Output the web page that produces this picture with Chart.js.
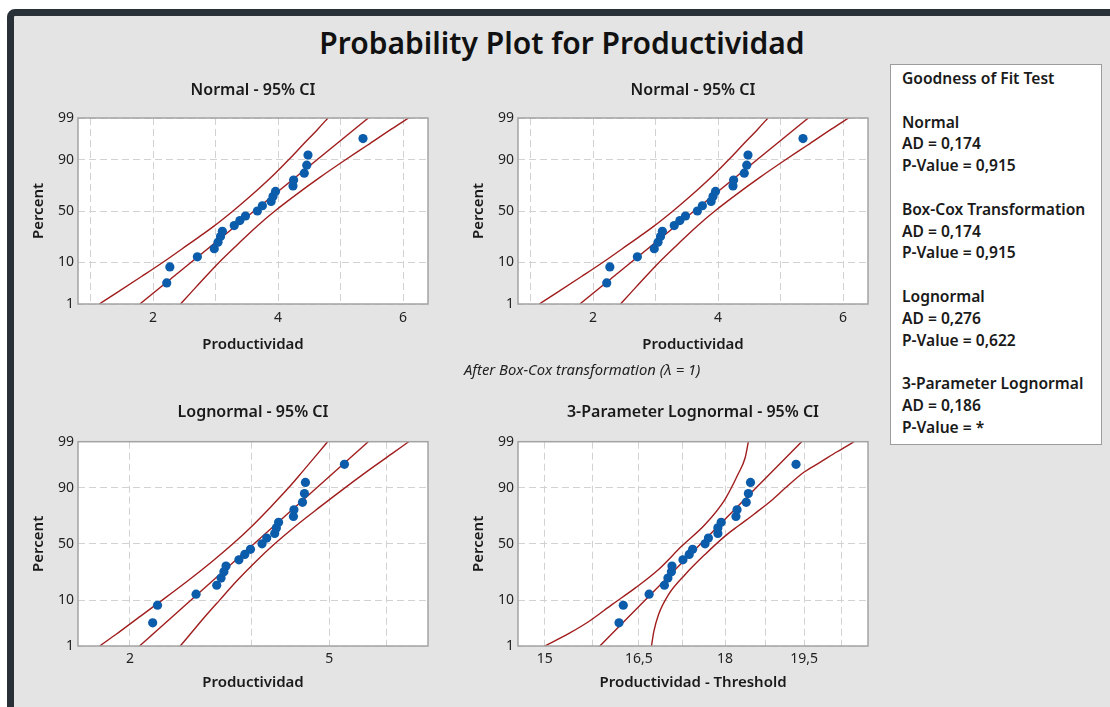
<!DOCTYPE html>
<html>
<head>
<meta charset="utf-8">
<script src="https://cdn.jsdelivr.net/npm/chart.js"></script>
<style>
  html, body { margin:0; padding:0; background:#ffffff; }
  body { width:1110px; height:707px; overflow:hidden; position:relative; font-family:'Noto Sans', sans-serif; color:#1a1a1a; }
  #frame { position:absolute; left:7px; top:9px; width:1200px; height:800px; border:7px solid #2a3038; border-radius:8px; background:#e4e4e4; box-sizing:border-box; }
  #title { position:absolute; left:0; top:26px; width:1124px; height:34px; line-height:34px; text-align:center; font-size:30px; font-weight:600; color:#111; }
  .panel { position:absolute; }
  #legend { position:absolute; left:890px; top:64px; width:212px; height:381px; box-sizing:border-box; border:1.5px solid #9c9c9c; background:#fff; padding:3px 0 0 11px; font-size:15.6px; font-weight:600; line-height:21.8px; color:#1a1a1a; }
  #legend div { height:21.8px; white-space:nowrap; }
  #note { position:absolute; left:464px; top:360px; height:18px; line-height:18px; font-size:14.8px; font-style:italic; color:#222; white-space:nowrap; }
</style>
</head>
<body>
<div id="frame"></div>
<div id="title">Probability Plot for Productividad</div>
<div class="panel" style="left:10px; top:75px;"><canvas id="c1" width="430" height="285"></canvas></div>
<div class="panel" style="left:450px; top:75px;"><canvas id="c2" width="430" height="285"></canvas></div>
<div class="panel" style="left:10px; top:398px;"><canvas id="c3" width="430" height="300"></canvas></div>
<div class="panel" style="left:450px; top:398px;"><canvas id="c4" width="430" height="300"></canvas></div>
<div id="note">After Box-Cox transformation (λ = 1)</div>
<div id="legend">
  <div>Goodness of Fit Test</div>
  <div></div>
  <div>Normal</div>
  <div>AD = 0,174</div>
  <div>P-Value = 0,915</div>
  <div></div>
  <div>Box-Cox Transformation</div>
  <div>AD = 0,174</div>
  <div>P-Value = 0,915</div>
  <div></div>
  <div>Lognormal</div>
  <div>AD = 0,276</div>
  <div>P-Value = 0,622</div>
  <div></div>
  <div>3-Parameter Lognormal</div>
  <div>AD = 0,186</div>
  <div>P-Value = *</div>
</div>
<script>
// ---------------- DATA ----------------
// Sorted Productividad observations (n = 21)
const productividad = [2.22, 2.27, 2.71, 2.98, 3.04, 3.08, 3.11, 3.30, 3.39, 3.48, 3.67,
                       3.75, 3.89, 3.92, 3.96, 4.24, 4.25, 4.42, 4.46, 4.48, 5.36];
// Plotting positions (percent) of the points
const plotPercent = [3.6, 8.1, 12.6, 17.3, 21.8, 26.2, 30.6, 35.8, 40.5, 45.0, 50.0,
                     55.2, 59.4, 64.2, 68.8, 73.4, 78.1, 82.8, 87.4, 91.9, 96.5];
// Productividad - Threshold (3-parameter lognormal panel)
const prodMinusThreshold = [16.17, 16.24, 16.67, 16.93, 16.99, 17.05, 17.06, 17.25, 17.36, 17.42, 17.64,
                            17.70, 17.87, 17.87, 17.93, 18.20, 18.22, 18.39, 18.43, 18.47, 19.34];

// Fitted lines (end points at 1% and 99%)
const fitPercent = [1, 99];
const normalFitX = [1.79, 5.445];
const lognormalFitX = [2.09, 5.98];
const threeParFitX = [15.86, 19.45];

// 95% confidence bands
const bandPercent = [1, 2, 5, 10, 20, 35, 50, 65, 80, 90, 95, 98, 99];
const normalBandLeft  = [1.14, 1.41, 1.81, 2.16, 2.56, 2.97, 3.28, 3.57, 3.89, 4.17, 4.39, 4.64, 4.80];
const normalBandRight = [2.44, 2.60, 2.84, 3.06, 3.35, 3.66, 3.95, 4.27, 4.67, 5.08, 5.43, 5.82, 6.09];
const lognormalBandLeft  = [1.74, 1.88, 2.10, 2.32, 2.61, 2.93, 3.21, 3.49, 3.82, 4.15, 4.42, 4.74, 4.96];
const lognormalBandRight = [2.52, 2.64, 2.83, 3.02, 3.27, 3.58, 3.89, 4.26, 4.79, 5.38, 5.94, 6.67, 7.20];
const threeParBandLeftX   = [15.00, 15.38, 15.69, 16.06, 16.44, 16.83, 17.23, 17.64, 18.00, 18.24, 18.37, 18.43];
const threeParBandLeftPct = [1, 2.1, 3.9, 8.4, 15.8, 28, 48, 67, 84.5, 94.4, 97.5, 99];
const threeParBandRightX   = [16.71, 16.75, 16.83, 17.00, 17.29, 17.64, 18.00, 18.26, 18.54, 18.86, 19.14, 19.50, 19.83, 20.16, 20.51];
const threeParBandRightPct = [1, 2.3, 5.4, 12.4, 24.3, 40.5, 57.0, 66.4, 75.2, 83.7, 90.0, 94.9, 96.9, 98.2, 99];

// Axis ticks
const percentTicks = [1, 10, 50, 90, 99];
const normalGrid = [1, 2, 3, 4, 5, 6];
const normalTickValues = [2, 4, 6];
const normalTickLabels = ['2', '4', '6'];
const lognormalGrid = [2, 3.5, 5, 6.5];
const lognormalTickValues = [2, 5];
const lognormalTickLabels = ['2', '5'];
const threeParGrid = [15, 15.75, 16.5, 17.25, 18, 18.75, 19.5, 20.25];
const threeParTickValues = [15, 16.5, 18, 19.5];
const threeParTickLabels = ['15', '16,5', '18', '19,5'];

// ---------------- Probability (normal-quantile) scale ----------------
function normInv(p) {
  const a = [-3.969683028665376e+01, 2.209460984245205e+02, -2.759285104469687e+02, 1.383577518672690e+02, -3.066479806614716e+01, 2.506628277459239e+00];
  const b = [-5.447609879822406e+01, 1.615858368580409e+02, -1.556989798598866e+02, 6.680131188771972e+01, -1.328068155288572e+01];
  const c = [-7.784894002430293e-03, -3.223964580411365e-01, -2.400758277161838e+00, -2.549732539343734e+00, 4.374664141464968e+00, 2.938163982698783e+00];
  const d = [7.784695709041462e-03, 3.224671290700398e-01, 2.445134137142996e+00, 3.754408661907416e+00];
  const pl = 0.02425;
  let q, r;
  if (p < pl) { q = Math.sqrt(-2 * Math.log(p)); return (((((c[0]*q+c[1])*q+c[2])*q+c[3])*q+c[4])*q+c[5]) / ((((d[0]*q+d[1])*q+d[2])*q+d[3])*q+1); }
  if (p > 1 - pl) { q = Math.sqrt(-2 * Math.log(1 - p)); return -(((((c[0]*q+c[1])*q+c[2])*q+c[3])*q+c[4])*q+c[5]) / ((((d[0]*q+d[1])*q+d[2])*q+d[3])*q+1); }
  q = p - 0.5; r = q * q;
  return (((((a[0]*r+a[1])*r+a[2])*r+a[3])*r+a[4])*r+a[5])*q / (((((b[0]*r+b[1])*r+b[2])*r+b[3])*r+b[4])*r+1);
}
function normCdf(z) {
  const t = 1 / (1 + 0.2316419 * Math.abs(z));
  const y = 0.3989423 * Math.exp(-z * z / 2) * t * (0.3193815 + t * (-0.3565638 + t * (1.781478 + t * (-1.821256 + t * 1.330274))));
  return z > 0 ? 1 - y : y;
}
class ProbitScale extends Chart.LinearScale {
  determineDataLimits() { this.min = this.options.min; this.max = this.options.max; }
  buildTicks() { return percentTicks.map(v => ({ value: v })); }
  configure() {
    super.configure();
    this._zStart = normInv(this.min / 100);
    this._zEnd = normInv(this.max / 100);
  }
  getPixelForValue(value) {
    if (value === null || value === undefined || isNaN(value)) return NaN;
    const z = normInv(value / 100);
    return this.getPixelForDecimal((z - this._zStart) / (this._zEnd - this._zStart));
  }
  getValueForPixel(pixel) {
    const d = this.getDecimalForPixel(pixel);
    return 100 * normCdf(this._zStart + d * (this._zEnd - this._zStart));
  }
}
ProbitScale.id = 'probit';
ProbitScale.defaults = {};
Chart.register(ProbitScale);

// ---------------- Chart building ----------------
const FONT = "'Noto Sans', sans-serif";
Chart.defaults.font.family = FONT;
Chart.defaults.color = '#222';

const LINE_RED = '#a01d1d';
const DOT_BLUE = '#0b5cab';
const GRID = '#d2d2d2';

const plotFrame = {
  id: 'plotFrame',
  beforeDraw(chart) {
    const { ctx, chartArea: a } = chart;
    ctx.save(); ctx.fillStyle = '#ffffff'; ctx.fillRect(a.left, a.top, a.width, a.height); ctx.restore();
  },
  afterDraw(chart) {
    const { ctx, chartArea: a } = chart;
    ctx.save(); ctx.strokeStyle = '#a3a3a3'; ctx.lineWidth = 1.5;
    ctx.strokeRect(a.left, a.top, a.width, a.height); ctx.restore();
  }
};

function pairs(xs, ys) { return xs.map((x, i) => ({ x: x, y: ys[i] })); }

function lineDs(xs, ys) {
  return { data: pairs(xs, ys), showLine: true, borderColor: LINE_RED, borderWidth: 1.4,
           pointRadius: 0, fill: false, cubicInterpolationMode: 'monotone' };
}

function makePanel(id, cfg) {
  const titleFont = { family: FONT, size: 16, weight: '600' };
  const axisFont = { family: FONT, size: 15, weight: '600' };
  const tickFont = { family: FONT, size: 14 };
  new Chart(document.getElementById(id), {
    type: 'scatter',
    data: {
      datasets: [
        { data: pairs(cfg.pointsX, plotPercent), backgroundColor: DOT_BLUE, borderWidth: 0, pointRadius: 4.6 },
        lineDs(cfg.fitX, fitPercent),
        lineDs(cfg.leftX, cfg.leftPct),
        lineDs(cfg.rightX, cfg.rightPct)
      ]
    },
    options: {
      responsive: false, animation: false, events: [],
      layout: { padding: { left: 0, right: 12, top: 0, bottom: 0 } },
      plugins: {
        legend: { display: false }, tooltip: { enabled: false },
        title: { display: true, text: cfg.title, fullSize: false, font: titleFont, color: '#1a1a1a',
                 padding: { top: cfg.titleTop, bottom: cfg.titleBottom } }
      },
      scales: {
        x: {
          type: cfg.xType, min: cfg.xMin, max: cfg.xMax,
          afterBuildTicks: s => { s.ticks = cfg.grid.map(v => ({ value: v })); },
          afterFit: s => { s.height = cfg.xAxisH; },
          grid: { color: GRID, lineWidth: 1, drawTicks: false },
          border: { display: false, dash: [7, 4] },
          ticks: {
            autoSkip: false, maxRotation: 0, padding: cfg.tickPad, font: tickFont, color: '#222',
            callback: v => { const i = cfg.tickValues.indexOf(v); return i >= 0 ? cfg.tickLabels[i] : ''; }
          },
          title: { display: true, text: cfg.xTitle, font: axisFont, color: '#1a1a1a',
                   padding: { top: 0, bottom: cfg.xTitleBottom } }
        },
        y: {
          type: 'probit', min: 1, max: 99, position: 'left',
          afterFit: s => { s.width = 68; },
          grid: { color: GRID, lineWidth: 1, drawTicks: false },
          border: { display: false, dash: [7, 4] },
          ticks: { padding: 4, font: tickFont, color: '#222', callback: v => String(v) },
          title: { display: true, text: 'Percent', font: axisFont, color: '#1a1a1a',
                   padding: { top: 20, bottom: 0 } }
        }
      }
    },
    plugins: [plotFrame]
  });
}

const topCfg = {
  xType: 'linear', xMin: 0.8, xMax: 6.4, grid: normalGrid,
  tickValues: normalTickValues, tickLabels: normalTickLabels,
  pointsX: productividad, fitX: normalFitX,
  leftX: normalBandLeft, leftPct: bandPercent, rightX: normalBandRight, rightPct: bandPercent,
  titleTop: 5.4, titleBottom: 18.4, xAxisH: 56, xTitleBottom: 6.2, tickPad: 6,
  title: 'Normal - 95% CI', xTitle: 'Productividad'
};
makePanel('c1', topCfg);
makePanel('c2', topCfg);

makePanel('c3', {
  xType: 'logarithmic', xMin: 1.575, xMax: 7.87, grid: lognormalGrid,
  tickValues: lognormalTickValues, tickLabels: lognormalTickLabels,
  pointsX: productividad, fitX: lognormalFitX,
  leftX: lognormalBandLeft, leftPct: bandPercent, rightX: lognormalBandRight, rightPct: bandPercent,
  titleTop: 4.4, titleBottom: 20.1, xAxisH: 52, xTitleBottom: 5.8, tickPad: 5,
  title: 'Lognormal - 95% CI', xTitle: 'Productividad'
});

makePanel('c4', {
  xType: 'logarithmic', xMin: 14.634, xMax: 20.80, grid: threeParGrid,
  tickValues: threeParTickValues, tickLabels: threeParTickLabels,
  pointsX: prodMinusThreshold, fitX: threeParFitX,
  leftX: threeParBandLeftX, leftPct: threeParBandLeftPct, rightX: threeParBandRightX, rightPct: threeParBandRightPct,
  titleTop: 4.4, titleBottom: 20.1, xAxisH: 52, xTitleBottom: 5.8, tickPad: 5,
  title: '3-Parameter Lognormal - 95% CI', xTitle: 'Productividad - Threshold'
});
</script>
</body>
</html>
